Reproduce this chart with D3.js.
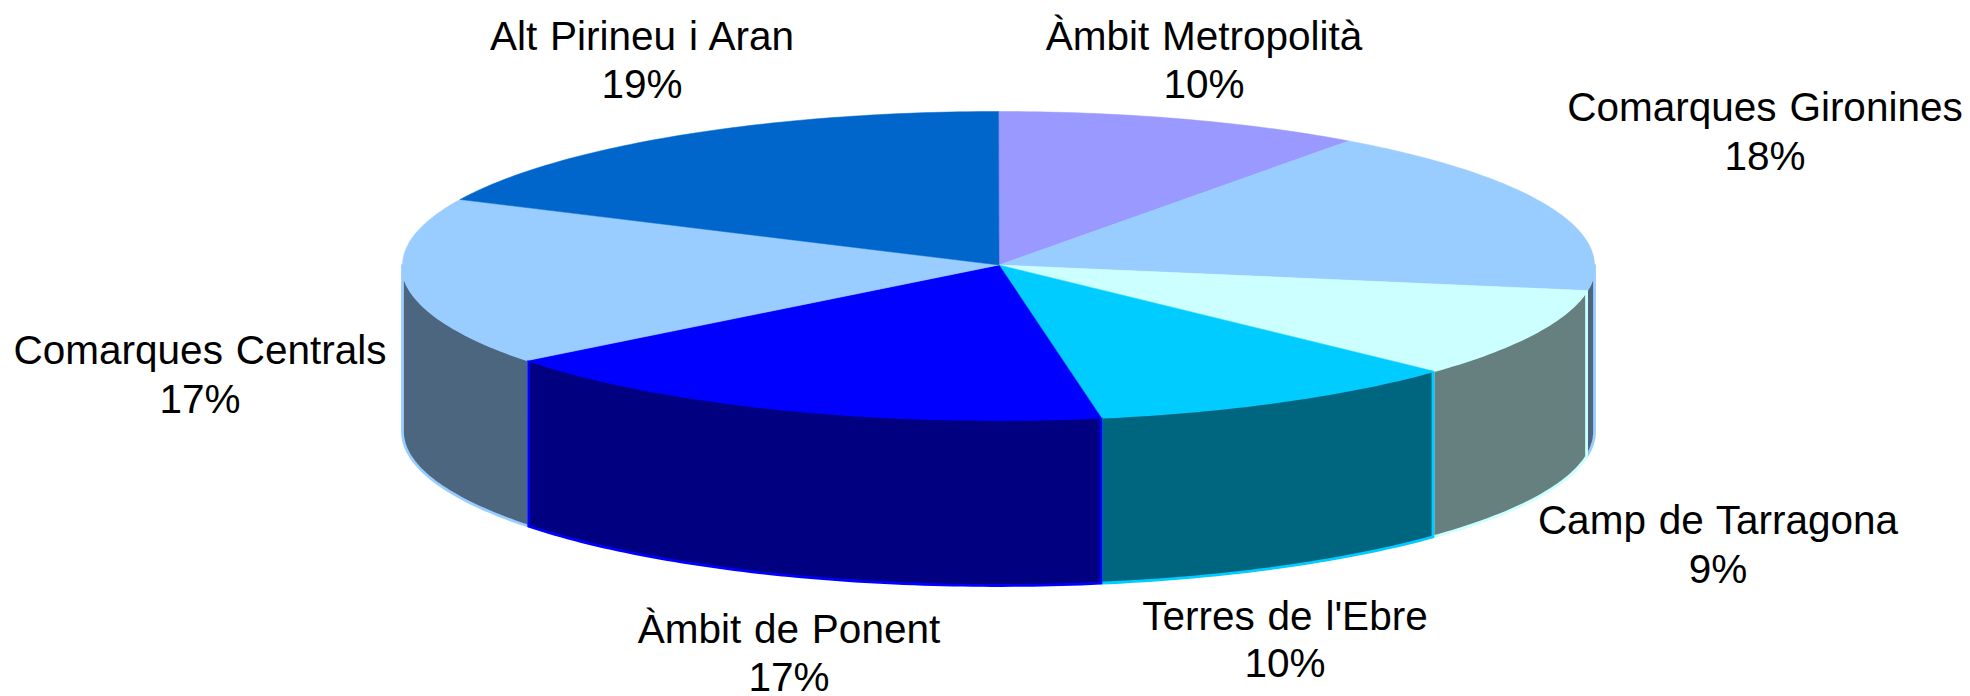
<!DOCTYPE html>
<html><head><meta charset="utf-8">
<style>html,body{margin:0;padding:0;background:#fff}svg{display:block}text{font-family:"Liberation Sans",Arial,sans-serif;font-size:40.5px;word-spacing:1.5px;fill:#000;text-anchor:middle}</style>
<script src="https://cdn.jsdelivr.net/npm/d3@7"></script></head><body>
<svg id="c" width="1970" height="696"></svg>
<script>
const categories = ["Àmbit Metropolità","Comarques Gironines","Camp de Tarragona","Terres de l'Ebre","Àmbit de Ponent","Comarques Centrals","Alt Pirineu i Aran"];
const values = [10, 17.6, 9.4, 10.25, 17.2, 17.6, 17.95];
const percentLabels = ["10%","18%","9%","10%","17%","17%","19%"];
const topColors = ["#9999FF","#99CCFF","#CCFFFF","#00CCFF","#0000FF","#99CCFF","#0066CC"];
const sideColors = ["#4D4D80","#4D6680","#668080","#006680","#000080","#4D6680","#003366"];
const sideOrder = [1,2,3,5,4];
const labelX = [1204,1765,1718,1285,789,200,642];
const labelY1 = [50,121,534,630,643,364,50];
const labelY2 = [98,170,583,677,691,413,98];

const svg = d3.select("#c");
const cx = 998.5, cy = 265.5, rx = 596, ry = 154, depth = 166;
const sx = d3.scaleLinear().domain([-1,1]).range([cx-rx,cx+rx]);
const sy = d3.scaleLinear().domain([-1,1]).range([cy-ry,cy+ry]);
const arcs = d3.pie().sort(null).value(d=>d)(values);
const pt = (a,drop=0)=>[sx(Math.sin(a)), sy(-Math.cos(a))+drop];
const line = d3.line();
const sample = (a0,a1)=>{const n=Math.max(2,Math.ceil(Math.abs(a1-a0)*60));return d3.range(n+1).map(i=>a0+(a1-a0)*i/n);};

// side walls, visible between 90° and 270°
const lo = Math.PI/2, hi = 3*Math.PI/2;
const g = svg.append("g");
sideOrder.forEach(i=>{
  const d = arcs[i];
  const a0 = Math.max(d.startAngle,lo), a1 = Math.min(d.endAngle,hi);
  if(a1<=a0) return;
  const upper = sample(a0,a1).map(a=>pt(a));
  const lower = sample(a1,a0).map(a=>pt(a,depth));
  g.append("path").attr("d",line(upper.concat(lower))+"Z")
    .attr("fill",sideColors[i]).attr("stroke",topColors[i]).attr("stroke-width",2.8).attr("stroke-linejoin","round");
});
// top face
arcs.forEach((d,i)=>{
  const rim = sample(d.startAngle,d.endAngle).map(a=>pt(a));
  g.append("path").attr("d",line([[cx+0.5,cy-0.5]].concat(rim))+"Z")
    .attr("fill",topColors[i]).attr("stroke",topColors[i]).attr("stroke-width",0.5);
});
// labels
categories.forEach((c,i)=>{
  svg.append("text").attr("x",labelX[i]).attr("y",labelY1[i]).text(c);
  svg.append("text").attr("x",labelX[i]).attr("y",labelY2[i]).text(percentLabels[i]);
});
</script></body></html>
